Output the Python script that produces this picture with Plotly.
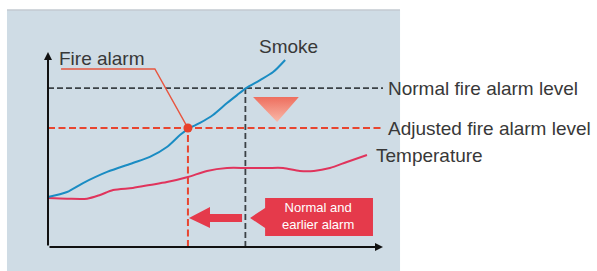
import plotly.graph_objects as go

# ---- data (time units, level units) ----
smoke_t = [0.0, 0.57, 1.05, 1.77, 2.54, 3.05, 3.56, 3.95, 4.19, 4.55, 4.94, 5.36, 5.66, 5.93, 6.35, 6.74, 7.10]
smoke_v = [2.56, 2.82, 3.28, 3.85, 4.31, 4.62, 5.13, 5.74, 6.05, 6.36, 6.77, 7.38, 7.79, 8.15, 8.56, 8.97, 9.59]

temp_t = [0.0, 0.57, 1.17, 1.56, 1.95, 2.54, 3.05, 3.56, 4.19, 4.76, 5.36, 5.96, 6.56, 7.04, 7.54, 7.96, 8.44, 8.95, 9.55]
temp_v = [2.51, 2.48, 2.48, 2.67, 2.92, 3.03, 3.18, 3.33, 3.59, 3.90, 4.05, 4.05, 4.05, 4.05, 3.90, 3.90, 4.05, 4.36, 4.72]

normal_level = 8.15
adjusted_level = 6.10
fire_alarm_time = 4.19
normal_alarm_time = 5.91
axis_t_max = 10.03
axis_v_max = 10.0

# leader line for "Fire alarm"
leader_t = [0.39, 3.20, fire_alarm_time]
leader_v = [9.13, 9.13, adjusted_level]

# decorative shapes
tri_t = [6.14, 7.51, 6.86, 6.14]
tri_v = [7.69, 7.69, 6.41, 7.69]
arrow_t = [4.22, 4.85, 4.85, 5.81, 5.81, 4.85, 4.85, 4.22]
arrow_v = [1.49, 2.05, 1.69, 1.69, 1.28, 1.28, 0.97, 1.49]
box_t = [6.05, 6.50, 6.50, 9.73, 9.73, 6.50, 6.50, 6.05]
box_v = [1.49, 2.00, 2.51, 2.51, 0.56, 0.56, 0.97, 1.49]

labels = ["Smoke", "Fire alarm", "Normal fire alarm level", "Adjusted fire alarm level", "Temperature"]
label_t = [6.25, 0.26, 10.12, 10.12, 9.76]
label_v = [10.26, 9.68, 8.13, 6.08, 4.69]

box_text = "Normal and<br>earlier alarm"
box_text_t = 8.08
box_text_v = 1.58

RED = "#e53a4b"
fig = go.Figure()

# panel background
fig.add_shape(type="rect", x0=-1.228, x1=10.54, y0=-1.4, y1=12.15,
              fillcolor="#cfdce5", line=dict(width=0), layer="below")
fig.add_shape(type="line", x0=-1.228, x1=10.54, y0=12.15, y1=12.15,
              line=dict(color="#c3cad0", width=1.5), layer="below")

# triangle with gradient
fig.add_trace(go.Scatter(x=tri_t, y=tri_v, mode="lines", fill="toself",
                         line=dict(width=0, color="rgba(0,0,0,0)"),
                         fillgradient=dict(type="vertical",
                                           colorscale=[[0, "#f9b9a9"], [1, "#ee6e5e"]]),
                         hoverinfo="skip", showlegend=False))

# level lines
fig.add_trace(go.Scatter(x=[0, axis_t_max], y=[normal_level, normal_level], mode="lines",
                         line=dict(color="#3b4146", width=1.6, dash="6px,3px"),
                         showlegend=False, hoverinfo="skip"))
fig.add_trace(go.Scatter(x=[0, axis_t_max], y=[adjusted_level, adjusted_level], mode="lines",
                         line=dict(color="#e8452f", width=2, dash="7px,3.5px"),
                         showlegend=False, hoverinfo="skip"))
# vertical lines
fig.add_trace(go.Scatter(x=[normal_alarm_time, normal_alarm_time], y=[0, normal_level], mode="lines",
                         line=dict(color="#3b4146", width=1.8, dash="6px,3px"),
                         showlegend=False, hoverinfo="skip"))
fig.add_trace(go.Scatter(x=[fire_alarm_time, fire_alarm_time], y=[0, adjusted_level], mode="lines",
                         line=dict(color="#e8452f", width=2, dash="7px,3.5px"),
                         showlegend=False, hoverinfo="skip"))

# temperature & smoke curves
fig.add_trace(go.Scatter(x=temp_t, y=temp_v, mode="lines", line=dict(color="#e0345c", width=2, shape="spline", smoothing=0.8),
                         showlegend=False, hoverinfo="skip"))
fig.add_trace(go.Scatter(x=smoke_t, y=smoke_v, mode="lines", line=dict(color="#1a8cc3", width=2, shape="spline", smoothing=0.8),
                         showlegend=False, hoverinfo="skip"))

# leader line & dot
fig.add_trace(go.Scatter(x=leader_t, y=leader_v, mode="lines", line=dict(color="#e8553f", width=1.4),
                         showlegend=False, hoverinfo="skip"))
fig.add_trace(go.Scatter(x=[fire_alarm_time], y=[adjusted_level], mode="markers",
                         marker=dict(color="#e8402a", size=9), showlegend=False, hoverinfo="skip"))

# big arrow and callout box
fig.add_trace(go.Scatter(x=arrow_t, y=arrow_v, mode="lines", fill="toself", fillcolor=RED,
                         line=dict(width=0, color=RED), showlegend=False, hoverinfo="skip"))
fig.add_trace(go.Scatter(x=box_t, y=box_v, mode="lines", fill="toself", fillcolor=RED,
                         line=dict(width=0, color=RED), showlegend=False, hoverinfo="skip"))

annotations = []
# axes with arrows
annotations.append(dict(x=0, y=axis_v_max, ax=0, ay=0, xref="x", yref="y", axref="x", ayref="y",
                        text="", showarrow=True, arrowhead=2, arrowsize=0.8, arrowwidth=2, arrowcolor="#111"))
annotations.append(dict(x=axis_t_max, y=0, ax=0, ay=0, xref="x", yref="y", axref="x", ayref="y",
                        text="", showarrow=True, arrowhead=2, arrowsize=0.8, arrowwidth=2, arrowcolor="#111"))

for txt, t, v in zip(labels, label_t, label_v):
    annotations.append(dict(x=t, y=v, xref="x", yref="y", text=txt, showarrow=False,
                            xanchor="left", yanchor="middle",
                            font=dict(family="Liberation Sans, Arial", size=19, color="#383838")))
annotations.append(dict(x=box_text_t, y=box_text_v, xref="x", yref="y", text=box_text, showarrow=False,
                        xanchor="center", yanchor="middle", align="center",
                        font=dict(family="Liberation Sans, Arial", size=13, color="white")))

fig.update_layout(
    width=597, height=271, margin=dict(l=0, r=0, t=0, b=0),
    paper_bgcolor="white", plot_bgcolor="white",
    xaxis=dict(range=[-1.437, 16.437], visible=False, fixedrange=True),
    yaxis=dict(range=[-1.231, 12.667], visible=False, fixedrange=True),
    annotations=annotations, showlegend=False,
)

fig.write_html("out.html", config={"displayModeBar": False},
               post_script="document.body.style.margin='0';document.body.style.padding='0';")
